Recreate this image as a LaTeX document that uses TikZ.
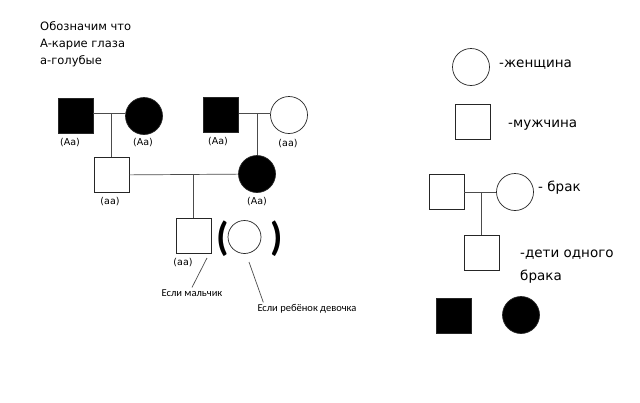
\documentclass[tikz,border=0pt]{standalone}
\usepackage{fontspec}
\setmainfont{DejaVu Sans}
\newfontfamily\notefont{Carlito}
\begin{document}
\begin{tikzpicture}[x=1pt,y=-1pt,
  male/.style={rectangle, draw=black!85, line width=0.7pt, minimum size=35pt, inner sep=0pt},
  female/.style={circle, draw=black!85, line width=0.7pt, minimum size=37pt, inner sep=0pt},
  aff/.style={fill=black},
  gen/.style={font=\fontsize{9.5}{11}\selectfont, inner sep=0pt},
  link/.style={draw=black!70, line width=0.7pt},
  head/.style={font=\fontsize{11.5}{14}\selectfont, anchor=base west, inner sep=0pt},
  lbl/.style={font=\fontsize{13.5}{16}\selectfont, anchor=west, inner sep=0pt},
  note/.style={font=\notefont\fontsize{10.5}{12}\selectfont, inner sep=2pt},
  paren/.style={font=\notefont\bfseries\fontsize{40}{40}\selectfont, inner sep=0pt}]
\useasboundingbox[fill=white] (0,0) rectangle (640,402);

% heading
\node[head] (h1) at (40,30) {Обозначим что};
\node[head] (h2) at (40,47) {A-карие глаза};
\node[head] (h3) at (40,64) {a-голубые};

% generation I
\node[male,aff] (s1) at (75.5,116) {};
\node[female,aff] (c1) at (144,116) {};
\node[male,aff] (s2) at (221,115) {};
\node[female] (c2) at (289,115) {};
\node[gen] (g1) at (70,143) {(Aa)};
\node[gen] (g2) at (143,143) {(Aa)};
\node[gen] (g3) at (218,142) {(Aa)};
\node[gen] (g4) at (288,144) {(aa)};

% generation II
\node[male] (s3) at (111.5,175) {};
\node[female,aff] (c3) at (257,174) {};
\node[gen] (g5) at (110,202) {(aa)};
\node[gen] (g6) at (257,202) {(Aa)};

% generation III
\node[male] (s4) at (193.5,235.5) {};
\node[female, minimum size=33pt] (c4) at (244.5,237) {};
\node[paren] (pl) at (222.5,239) {(};
\node[paren] (pr) at (276.5,239) {)};
\node[gen] (g7) at (183,263) {(aa)};
\node[note] (n1) at (192,293) {Если мальчик};
\node[note] (n2) at (307,309) {Если ребёнок девочка};

% connectors
\coordinate (m1) at (111.5,113);
\coordinate (m2) at (257,113);
\coordinate (m3) at (193.5,174);
\draw[link] ([yshift=3pt]s1.east) -- ([yshift=3pt]c1.west);
\draw[link] (m1) -- (s3.north);
\draw[link] ([yshift=2pt]s2.east) -- ([yshift=2pt]c2.west);
\draw[link] (m2) -- (c3.north);
\draw[link] (s3) -- (c3);
\draw[link] (m3) -- (s4.north);
\coordinate (p1) at (207,258);
\draw[link] (p1) -- (n1.north);
\coordinate (p2) at (249,262);
\draw[link] (p2) -- ([xshift=8pt]n2.north west);

% legend
\node[female] (lc) at (471,67) {};
\node[lbl] (t1) at (499,65) {-женщина};
\node[male] (ls) at (473,122) {};
\node[lbl] (t2) at (508,125) {-мужчина};
\node[male] (lm) at (446.5,192) {};
\node[female] (lf) at (515,192) {};
\coordinate (m4) at (481.5,192);
\node[male] (lk) at (481.5,253) {};
\draw[link] (lm) -- (lf);
\draw[link] (m4) -- (lk.north);
\node[lbl] (t3) at (538,188) {- брак};
\node[lbl] (t4) at (520,255) {-дети одного};
\node[lbl] (t5) at (520,277) {брака};
\node[male,aff] (la) at (453.5,316) {};
\node[female,aff] (lb) at (521,315) {};
\end{tikzpicture}
\end{document}
